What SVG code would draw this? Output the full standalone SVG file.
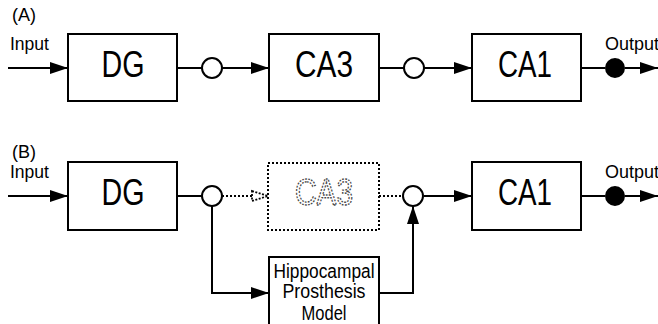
<svg xmlns="http://www.w3.org/2000/svg" width="658" height="324" viewBox="0 0 658 324">
<style>
.box{fill:#fff;stroke:#000;stroke-width:2}
.dbox{fill:#fff;stroke:#000;stroke-width:2;stroke-dasharray:2 2}
.ln{fill:none;stroke:#000;stroke-width:2}
.dln{fill:none;stroke:#000;stroke-width:2;stroke-dasharray:2 2}
.big{font-family:"Liberation Sans",Arial,sans-serif;font-size:36px;text-anchor:middle;fill:#000}
.lbl{font-family:"Liberation Sans",Arial,sans-serif;font-size:18px;fill:#000}
.mdl{font-family:"Liberation Sans",Arial,sans-serif;font-size:20px;fill:#000;text-anchor:middle}
.ghost{font-family:"Liberation Sans",Arial,sans-serif;font-size:36px;text-anchor:middle;fill:#fff;stroke:#444;stroke-width:1.4;stroke-dasharray:2 1.5}
.oc{fill:#fff;stroke:#000;stroke-width:2}
.fc{fill:#000;stroke:#000;stroke-width:2}
</style>
<defs>
<marker id="ah" markerUnits="userSpaceOnUse" markerWidth="18" markerHeight="12" refX="18" refY="6" orient="auto" overflow="visible">
<path d="M0,0 L18,6 L0,12 z" fill="#000"/>
</marker>
</defs>
<rect width="658" height="324" fill="#fff"/>
<text class="lbl" x="12" y="21">(A)</text>
<text class="lbl" x="12" y="158">(B)</text>
<text class="lbl" x="10" y="50" textLength="39" lengthAdjust="spacingAndGlyphs">Input</text>
<text class="lbl" x="605" y="50" textLength="54" lengthAdjust="spacingAndGlyphs">Output</text>
<text class="lbl" x="10" y="178" textLength="39" lengthAdjust="spacingAndGlyphs">Input</text>
<text class="lbl" x="605" y="178" textLength="54" lengthAdjust="spacingAndGlyphs">Output</text>
<g id="connectors">
<path class="ln" d="M8,68 H68" marker-end="url(#ah)"/>
<path class="ln" d="M177,68 H202"/>
<path class="ln" d="M222,68 H269" marker-end="url(#ah)"/>
<path class="ln" d="M379,68 H404"/>
<path class="ln" d="M424,68 H472" marker-end="url(#ah)"/>
<path class="ln" d="M581,68 H605"/>
<path class="ln" d="M625,68 H658" marker-end="url(#ah)"/>
<path class="ln" d="M8,196 H68" marker-end="url(#ah)"/>
<path class="ln" d="M177,196 H202"/>
<path class="dln" d="M222,196 H252"/>
<path d="M252,191 L268,196 L252,201 z" fill="#fff" stroke="#000" stroke-width="1.8" stroke-dasharray="2 1.5"/>
<path class="dln" d="M379,196 H404"/>
<path class="ln" d="M424,196 H472" marker-end="url(#ah)"/>
<path class="ln" d="M581,196 H605"/>
<path class="ln" d="M625,196 H658" marker-end="url(#ah)"/>
<path class="ln" d="M212,206 V293 H269" marker-end="url(#ah)"/>
<path class="ln" d="M379,293 H413 V206" marker-end="url(#ah)"/>
</g>
<g id="dgA"><rect class="box" x="68" y="34" width="109" height="67"/><text class="big" x="123" y="77" textLength="43" lengthAdjust="spacingAndGlyphs">DG</text></g>
<g id="ca3A"><rect class="box" x="269" y="34" width="110" height="67"/><text class="big" x="324" y="77" textLength="58" lengthAdjust="spacingAndGlyphs">CA3</text></g>
<g id="ca1A"><rect class="box" x="472" y="34" width="109" height="67"/><text class="big" x="525" y="77" textLength="54" lengthAdjust="spacingAndGlyphs">CA1</text></g>
<g id="j1A"><circle class="oc" cx="212" cy="68" r="10"/></g>
<g id="j2A"><circle class="oc" cx="414" cy="68" r="10"/></g>
<g id="outA"><circle class="fc" cx="615" cy="68" r="9"/></g>
<g id="dgB"><rect class="box" x="68" y="162" width="109" height="68"/><text class="big" x="123" y="205" textLength="43" lengthAdjust="spacingAndGlyphs">DG</text></g>
<g id="ca3B"><rect class="dbox" x="268" y="163" width="111" height="67"/><text class="ghost" x="324" y="205" textLength="58" lengthAdjust="spacingAndGlyphs">CA3</text></g>
<g id="ca1B"><rect class="box" x="472" y="162" width="109" height="68"/><text class="big" x="525" y="205" textLength="54" lengthAdjust="spacingAndGlyphs">CA1</text></g>
<g id="j1B"><circle class="oc" cx="212" cy="196" r="10"/></g>
<g id="j2B"><circle class="oc" cx="413" cy="196" r="10"/></g>
<g id="outB"><circle class="fc" cx="615" cy="196" r="9"/></g>
<g id="model"><rect class="box" x="269" y="257" width="110" height="80"/>
<text class="mdl" x="324" y="278" textLength="101" lengthAdjust="spacingAndGlyphs">Hippocampal</text>
<text class="mdl" x="324" y="298" textLength="83" lengthAdjust="spacingAndGlyphs">Prosthesis</text>
<text class="mdl" x="324" y="320" textLength="45" lengthAdjust="spacingAndGlyphs">Model</text>
</g>
</svg>
